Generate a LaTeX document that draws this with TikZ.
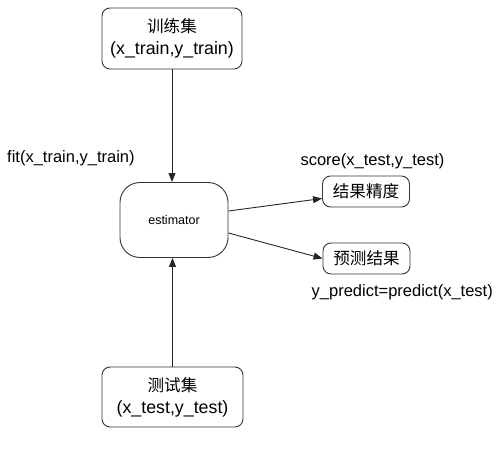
\documentclass[tikz,border=0pt]{standalone}
\usepackage{fontspec}
\setmainfont{Liberation Sans}
\newfontfamily\cjk[Scale=0.93]{Noto Sans CJK SC}
\usepackage{tikz}
\usetikzlibrary{positioning}
\usetikzlibrary{arrows.meta}

\tikzset{
    databox/.style={draw=black!80, rectangle, rounded corners=8pt, line width=0.9pt, align=center, font=\fontsize{17.8}{22}\selectfont, inner sep=0pt},
    resultbox/.style={draw=black!80, rectangle, rounded corners=8pt, line width=0.9pt, minimum width=87pt, minimum height=31pt, font=\fontsize{17.8}{20}\cjk, inner sep=0pt},
    flow/.style={draw=black!85, line width=0.9pt, -{Triangle[length=9pt,width=7pt]}},
    lbl/.style={font=\fontsize{16.5}{20}\selectfont, inner sep=0pt}
}

\begin{document}
\begin{tikzpicture}[x=1pt, y=-1pt]
    \useasboundingbox (0,0) rectangle (500,449);

    \node (train) [databox, minimum width=140pt, minimum height=61pt] at (172,38.5) {{\cjk 训练集}\\(x\_train,y\_train)};
    \node (est) [draw=black!80, rectangle, rounded corners=20pt, line width=0.9pt, minimum width=108pt, minimum height=75pt, font=\fontsize{12.5}{14}\selectfont] at (174,220) {estimator};
    \node (test) [databox, minimum width=141pt, minimum height=60pt] at (172.5,397) {{\cjk 测试集}\\(x\_test,y\_test)};

    \node (score) [resultbox] at (366,191.5) {结果精度};
    \node (pred) [resultbox] at (366.5,258.5) {预测结果};

    \node (fitlbl) [lbl, anchor=west] at (7,158) {fit(x\_train,y\_train)};
    \node (scorelbl) [lbl] at (372.5,161) {score(x\_test,y\_test)};
    \node (predlbl) [lbl, anchor=east] at (493,292) {y\_predict=predict(x\_test)};

    \draw[flow] (train.south) -- (train.south |- est.north);
    \draw[flow] (test.north) -- (test.north |- est.south);
    \draw[flow] ([yshift=9pt]est.east) -- ([yshift=-7pt]score.west);
    \draw[flow] ([yshift=-13pt]est.east) -- (pred.west);
\end{tikzpicture}
\end{document}
